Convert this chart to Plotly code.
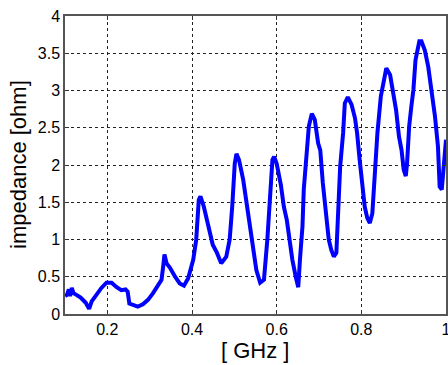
import plotly.graph_objects as go

freq_ghz = [0.100, 0.105, 0.109, 0.112, 0.116, 0.120, 0.126, 0.137, 0.149, 0.157, 0.163,
            0.174, 0.186, 0.198, 0.210, 0.222, 0.233, 0.243, 0.248, 0.252, 0.260, 0.272,
            0.284, 0.296, 0.308, 0.320, 0.328, 0.332, 0.335, 0.340, 0.348, 0.360, 0.371,
            0.381, 0.391, 0.403, 0.410, 0.416, 0.420, 0.428, 0.438, 0.449, 0.459, 0.469,
            0.481, 0.489, 0.495, 0.501, 0.505, 0.511, 0.521, 0.529, 0.536, 0.544, 0.552,
            0.561, 0.570, 0.578, 0.584, 0.590, 0.594, 0.600, 0.610, 0.617, 0.624, 0.629,
            0.637, 0.645, 0.651, 0.655, 0.661, 0.664, 0.670, 0.676, 0.683, 0.690, 0.698,
            0.703, 0.709, 0.717, 0.723, 0.729, 0.735, 0.741, 0.745, 0.750, 0.757, 0.761,
            0.768, 0.777, 0.785, 0.790, 0.796, 0.802, 0.808, 0.814, 0.820, 0.826, 0.832,
            0.838, 0.846, 0.854, 0.859, 0.868, 0.874, 0.882, 0.889, 0.895, 0.900, 0.905,
            0.908, 0.913, 0.918, 0.923, 0.928, 0.932, 0.937, 0.942, 0.950, 0.958, 0.966,
            0.974, 0.981, 0.985, 0.990, 0.993, 0.997, 1.000]
impedance = [0.24, 0.26, 0.33, 0.24, 0.35, 0.28, 0.26, 0.22, 0.15, 0.07, 0.17,
             0.26, 0.35, 0.42, 0.42, 0.36, 0.32, 0.33, 0.30, 0.14, 0.12, 0.10,
             0.13, 0.19, 0.28, 0.38, 0.46, 0.64, 0.80, 0.68, 0.62, 0.50, 0.41,
             0.38, 0.48, 0.73, 1.00, 1.53, 1.58, 1.44, 1.22, 0.93, 0.82, 0.68,
             0.77, 1.00, 1.44, 2.02, 2.15, 2.07, 1.80, 1.49, 1.26, 0.91, 0.59,
             0.42, 0.46, 1.00, 1.53, 2.07, 2.11, 2.02, 1.73, 1.44, 1.26, 1.04,
             0.73, 0.50, 0.36, 0.73, 1.18, 1.67, 2.16, 2.52, 2.69, 2.61, 2.29,
             2.20, 1.76, 1.35, 1.00, 0.86, 0.77, 0.82, 1.35, 1.98, 2.43, 2.83,
             2.91, 2.81, 2.63, 2.43, 2.07, 1.71, 1.44, 1.29, 1.22, 1.35, 1.98,
             2.43, 2.92, 3.19, 3.30, 3.21, 3.03, 2.74, 2.38, 2.20, 1.94, 1.85,
             2.02, 2.52, 2.78, 3.01, 3.41, 3.54, 3.66, 3.66, 3.54, 3.32, 3.01,
             2.65, 2.25, 1.71, 1.67, 1.89, 2.29, 2.34]

x_ticks = [0.2, 0.4, 0.6, 0.8, 1.0]
x_tick_labels = ["0.2", "0.4", "0.6", "0.8", "1"]
y_ticks = [0, 0.5, 1, 1.5, 2, 2.5, 3, 3.5, 4]
y_tick_labels = ["0", "0.5", "1", "1.5", "2", "2.5", "3", "3.5", "4"]
x_title = "[ GHz ]"
y_title = "impedance [ohm]"

fig = go.Figure()
fig.add_trace(go.Scatter(x=freq_ghz, y=impedance, mode="lines",
                         line=dict(color="#0000ff", width=4), showlegend=False))

font_family = "Liberation Sans, Arial, sans-serif"
axis_style = dict(showgrid=True, gridcolor="#222222", griddash="3px,3px", gridwidth=1,
                  showline=True, linecolor="#555555", linewidth=1.5, mirror="ticks",
                  ticks="inside", ticklen=4, tickcolor="#333333", zeroline=False,
                  automargin=False, ticklabeloverflow="allow",
                  tickfont=dict(family=font_family, size=16, color="#000000"))

L, R, T, B = 65, 2, 16, 51
W, H = 448, 365
pw, ph = W - L - R, H - T - B

fig.update_layout(
    width=W, height=H,
    margin=dict(l=L, r=R, t=T, b=B),
    paper_bgcolor="white", plot_bgcolor="white",
    xaxis=dict(range=[0.1, 1.0], tickvals=x_ticks, ticktext=x_tick_labels, **axis_style),
    yaxis=dict(range=[0, 4], tickvals=y_ticks, ticktext=y_tick_labels, **axis_style),
    annotations=[
        dict(text=x_title, xref="paper", yref="paper", x=(255 - L) / pw, y=-(350 - (H - B)) / ph,
             xanchor="center", yanchor="middle", showarrow=False,
             font=dict(family=font_family, size=22, color="#000000")),
        dict(text=y_title, xref="paper", yref="paper", x=(18 - L) / pw, y=0.5,
             xanchor="center", yanchor="middle", showarrow=False, textangle=-90,
             font=dict(family=font_family, size=22, color="#000000")),
    ],
)

fig.write_html("out.html", config={"displayModeBar": False},
               post_script="document.body.style.margin='0';document.body.style.overflow='hidden';")
